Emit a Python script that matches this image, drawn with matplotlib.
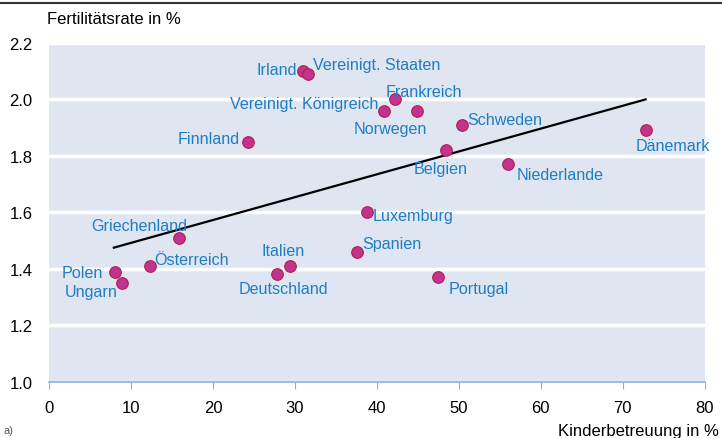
import matplotlib.pyplot as plt
from matplotlib.lines import Line2D

plt.rcParams['font.family'] = ['Liberation Sans', 'DejaVu Sans']

# ---- data ----
countries = ["Irland", "Vereinigt. Staaten", "Frankreich", "Vereinigt. Königreich",
             "Norwegen", "Schweden", "Dänemark", "Finnland", "Belgien", "Niederlande",
             "Luxemburg", "Griechenland", "Spanien", "Österreich", "Italien", "Polen",
             "Deutschland", "Portugal", "Ungarn"]
childcare = [31.0, 31.6, 42.2, 40.9, 44.9, 50.4, 72.8, 24.3, 48.4, 56.0,
             38.8, 15.9, 37.6, 12.3, 29.4, 8.0, 27.8, 47.4, 8.9]
fertility = [2.10, 2.09, 2.00, 1.96, 1.96, 1.91, 1.89, 1.85, 1.82, 1.77,
             1.60, 1.51, 1.46, 1.41, 1.41, 1.39, 1.38, 1.37, 1.35]
trend_x = [7.9, 72.8]
trend_y = [1.475, 2.0]

# label placement: (dx, dy) in pixels, horizontal alignment
label_pos = {
    "Irland": (-6, 2, 'right'),
    "Vereinigt. Staaten": (5, 9, 'left'),
    "Frankreich": (-9, 8, 'left'),
    "Vereinigt. Königreich": (-6, 7, 'right'),
    "Norwegen": (-27, -18, 'center'),
    "Schweden": (5, 5, 'left'),
    "Dänemark": (27, -15, 'center'),
    "Finnland": (-8, 3, 'right'),
    "Belgien": (-5, -18, 'center'),
    "Niederlande": (9, -10, 'left'),
    "Luxemburg": (6, -3, 'left'),
    "Griechenland": (-40, 12, 'center'),
    "Spanien": (5, 8, 'left'),
    "Österreich": (4, 7, 'left'),
    "Italien": (-7, 16, 'center'),
    "Polen": (-12, -1, 'right'),
    "Deutschland": (7, -14, 'center'),
    "Portugal": (11, -11, 'left'),
    "Ungarn": (-31, -9, 'center'),
}

label_col = '#1f7dc4'
fig = plt.figure(figsize=(7.22, 4.39), dpi=100)
ax = fig.add_axes([0.068, 0.128, 0.908, 0.772])
ax.set_facecolor('#dfe6f2')

ax.scatter(childcare, fertility, s=70, color='#c2338f', edgecolor='#b0204a',
           linewidth=0.8, zorder=4)
ax.plot(trend_x, trend_y, color='black', lw=1.6, zorder=3)

for name, x, y in zip(countries, childcare, fertility):
    dx, dy, ha = label_pos[name]
    ax.annotate(name, (x, y), xytext=(dx, dy), textcoords='offset pixels',
                ha=ha, va='center', fontsize=11.6, color=label_col, zorder=5)

ax.set_xlim(0, 80)
ax.set_ylim(1.0, 2.2)
ax.set_xticks(range(0, 81, 10))
ax.set_yticks([1.0, 1.2, 1.4, 1.6, 1.8, 2.0, 2.2])
ax.set_yticklabels(['1.0', '1.2', '1.4', '1.6', '1.8', '2.0', '2.2'])
ax.grid(axis='y', color='white', lw=2.5)
ax.set_axisbelow(True)
for s in ['top', 'right', 'left']:
    ax.spines[s].set_visible(False)
ax.spines['bottom'].set_color('#8aaee0')
ax.spines['bottom'].set_linewidth(1.2)
ax.tick_params(axis='x', direction='out', length=5, color='#8aaee0', labelsize=12, pad=8)
ax.tick_params(axis='y', length=0, labelsize=12, pad=12)

fig.text(0.065, 0.955, "Fertilitätsrate in %", fontsize=12, ha='left', va='center')
fig.text(0.995, 0.017, "Kinderbetreuung in %", fontsize=12, ha='right', va='center')
fig.text(0.005, 0.018, "a)", fontsize=8, ha='left', va='center', color='#555555')

# dark rule along the top edge
fig.add_artist(Line2D([0, 1], [0.99, 0.99], color='#333333', lw=1.5))

plt.savefig("out.png", dpi=100)
